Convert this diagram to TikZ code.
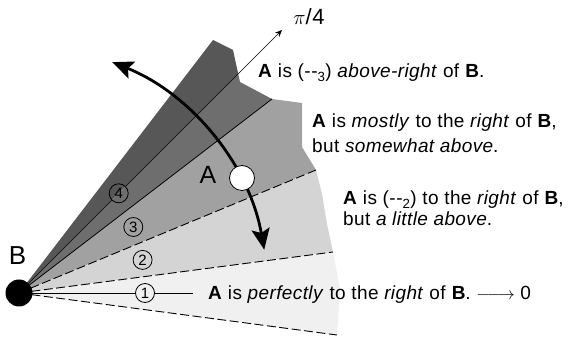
\documentclass[tikz,border=0pt]{standalone}
\usepackage{fontspec}
\setmainfont{Liberation Sans}[LetterSpace=2]
\usetikzlibrary{arrows.meta,calc}
\begin{document}
\begin{tikzpicture}[x=1pt,y=1pt,
  txt/.style={font=\fontsize{19}{23}\selectfont, anchor=base west, inner sep=0pt},
  numc/.style={circle, draw, line width=0.8pt, minimum size=19pt, inner sep=0pt, font=\fontsize{15}{15}\selectfont},
  dsh/.style={dash pattern=on 9pt off 3.5pt, line width=0.9pt},
  bigarrow/.style={line width=2.8pt, {Stealth[length=21pt,width=18pt,inset=4pt]}-{Stealth[length=21pt,width=18pt,inset=4pt]}},
  thinline/.style={line width=0.7pt}]
\useasboundingbox (0,0) rectangle (569,339);
\coordinate (B) at (19,46);
% sectors
\fill[black!66] (B) -- (213,299) -- (233,289) -- (238.2,265.2) -- cycle;
\fill[black!57] (B) -- (238.2,265.2) -- (240,257) -- (272,240) -- cycle;
\fill[black!37] (B) -- (272,240) -- (302,236) -- (302,192) -- (316,169) -- cycle;
\fill[black!17] (B) -- (316,169) -- (322,145) -- (327,115) -- (333,87) -- cycle;
\fill[black!6] (B) -- (333,87) -- (340,50) -- (337,4) -- cycle;
% boundary lines
\coordinate (dA) at (337,4);
\coordinate (dB) at (333,87);
\coordinate (dC) at (316,169);
\coordinate (dD) at (272,240);
\draw[dsh] (B) -- (dA);
\draw[dsh] (B) -- (dB);
\draw[dsh] (B) -- (dC);
\draw[line width=0.8pt] (B) -- (dD);
% circled numbers
\node[numc] (n1) at (145,46) {1};
\node[numc] (n2) at (142.6,79.1) {2};
\node[numc] (n3) at (133.3,112) {3};
\node[numc] (n4) at (118.7,145.7) {4};
\coordinate (l0end) at (193,46);
\coordinate (pitip) at (282,309);
\draw[thinline] (B) -- (n1);
\draw[thinline] (n1) -- (l0end);
\draw[thinline] (B) -- (n4);
\draw[thinline,-{Stealth[length=7pt,width=6pt]}] (n4) -- (pitip);
\node[font=\fontsize{22}{22}\selectfont, inner sep=0pt] (pi) at (309,322) {$\pi$/4};
% big arrow
\draw[bigarrow] ($(B)+(10:249)$) arc[start angle=10,end angle=68,radius=249];
\node[circle, draw, fill=white, minimum size=25pt, inner sep=0pt, line width=0.8pt] (Ac) at (242,161) {};
\node[circle, fill=black, minimum size=27pt, inner sep=0pt] (Bc) at (B) {};
\node[font=\fontsize{25}{25}\selectfont, inner sep=0pt] (Alab) at (208,164) {A};
\node[font=\fontsize{26}{26}\selectfont, inner sep=0pt] (Blab) at (17.5,83) {B};
% texts
\node[txt] (t3) at (258,261) {\textbf{A} is (-\kern.5pt-\textsubscript{3}) \textit{above-right} of \textbf{B}.};
\node[txt] (t2a) at (312,211) {\textbf{A} is \textit{mostly} to the \textit{right} of \textbf{B},};
\node[txt] (t2b) at (312,186) {but \textit{somewhat above}.};
\node[txt] (t1a) at (343,134) {\textbf{A} is (-\kern.5pt-\textsubscript{2}) to the \textit{right} of \textbf{B},};
\node[txt] (t1b) at (343,113) {but \textit{a little above}.};
\node[txt] (t0) at (208,39) {\textbf{A} is \textit{perfectly} to the \textit{right} of \textbf{B}. $\relbar\joinrel\longrightarrow$ 0};
\end{tikzpicture}
\end{document}
